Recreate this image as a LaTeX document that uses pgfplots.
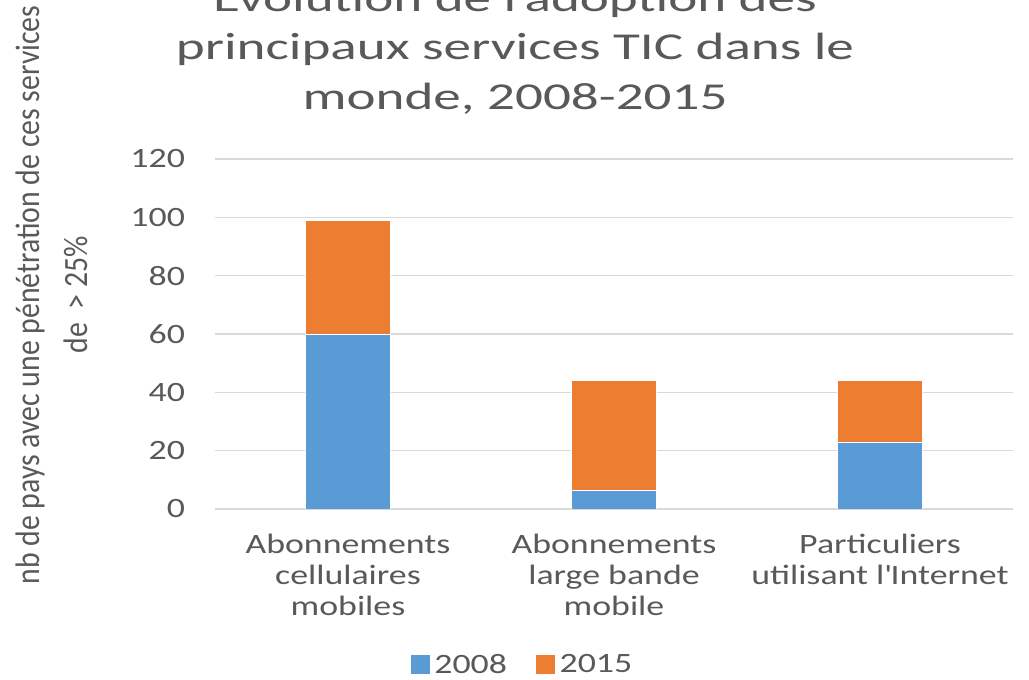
\documentclass[border=0pt]{standalone}
\usepackage{pgfplots}
\pgfplotsset{compat=1.18}
\usepackage{fontspec}
\setmainfont{Carlito}[FakeStretch=1.28]
\newfontfamily\titlefont{Carlito}[FakeStretch=1.45]
\newfontfamily\ylabfont{Carlito}[FakeStretch=0.876]
\definecolor{blue08}{HTML}{5B9BD5}
\definecolor{orange15}{HTML}{ED7D31}
\definecolor{txt}{HTML}{595959}
\definecolor{gridc}{HTML}{D9D9D9}
\begin{document}
\begin{tikzpicture}
\useasboundingbox (0,0) rectangle (514.5pt,340pt);
\begin{axis}[
  at={(107.5pt,85.5pt)}, anchor=south west,
  width=399pt, height=175pt, scale only axis,
  ybar stacked, bar width=42.5pt,
  xmin=-0.5, xmax=2.5, ymin=0, ymax=120,
  ytick={0,20,...,120},
  xtick={0,1,2},
  xticklabels={Abonnements\\cellulaires\\mobiles, Abonnements\\large bande\\mobile, Particuliers\\utilisant l\textquotesingle Internet},
  ymajorgrids, major grid style={draw=gridc, line width=0.75pt},
  axis line style={draw=none}, tick style={draw=none}, major tick length=0pt,
  /pgf/number format/assume math mode=true,
  ticklabel style={font=\fontsize{14}{15.5}\selectfont, text=txt},
  yticklabel style={xshift=-11.5pt},
  xticklabel style={align=center, anchor=north, yshift=-9pt},
  legend style={at={(0.386,-0.446)}, anchor=center, draw=none, legend columns=2,
    font=\fontsize{14}{16}\selectfont, text=txt,
    /tikz/every even column/.append style={column sep=12pt}},
  legend image code/.code={\fill[#1] (0pt,-4.5pt) rectangle (10pt,5.5pt);},
]
\addplot[fill=blue08, draw=white, line width=0.3pt] coordinates {(0,60) (1,6.5) (2,23)};
\addplot[fill=orange15, draw=white, line width=0.3pt] coordinates {(0,39) (1,37.5) (2,21)};
\legend{2008, 2015}
\end{axis}
\begin{scope}[font=\titlefont\fontsize{19}{23}\selectfont, text=txt]
\node[anchor=base] at (257.5pt,334pt) {Évolution de l\textquotesingle adoption des};
\node[anchor=base] at (257.5pt,310pt) {principaux services TIC dans le};
\node[anchor=base] at (257.5pt,285pt) {monde, 2008-2015};
\end{scope}
\begin{scope}[font=\ylabfont\fontsize{17}{20}\selectfont, text=txt]
\node[rotate=90, anchor=base] at (19.5pt,192.5pt) {nb de pays avec une pénétration de ces services};
\node[rotate=90, anchor=base] at (43.5pt,192.5pt) {de \ > 25\%};
\end{scope}
\end{tikzpicture}
\end{document}
